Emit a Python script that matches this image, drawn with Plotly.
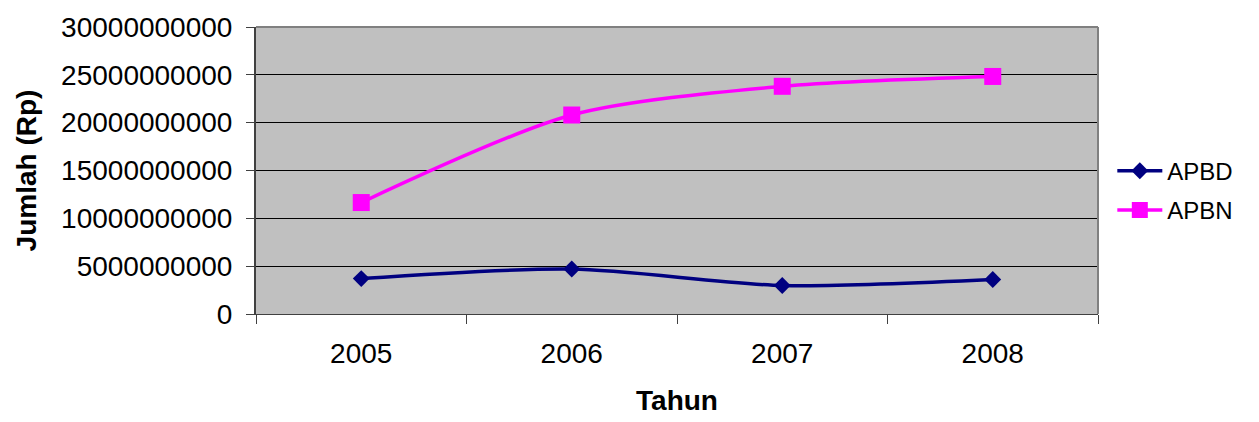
import plotly.graph_objects as go

years = ["2005", "2006", "2007", "2008"]
apbd = [3.7e9, 4.7e9, 2.98e9, 3.6e9]
apbn = [11.65e9, 20.8e9, 23.8e9, 24.83e9]
y_ticks = [0, 5e9, 10e9, 15e9, 20e9, 25e9, 30e9]
y_tick_labels = ["0", "5000000000", "10000000000", "15000000000", "20000000000", "25000000000", "30000000000"]

fig = go.Figure()
fig.add_trace(go.Scatter(
    x=years, y=apbd, name="APBD", mode="lines+markers", legendgroup="a",
    line=dict(color="#000080", width=3.5, shape="spline", smoothing=0.8),
    marker=dict(symbol="diamond", size=13, color="#000080"),
))
fig.add_trace(go.Scatter(
    x=years, y=apbn, name="APBN", mode="lines+markers", legendgroup="b",
    line=dict(color="#FF00FF", width=3.5, shape="spline", smoothing=0.8),
    marker=dict(symbol="square", size=17, color="#FF00FF"),
))

font = "Liberation Sans, Arial, sans-serif"
fig.update_layout(
    width=1259, height=422,
    margin=dict(l=256, r=161, t=25, b=105),
    paper_bgcolor="white", plot_bgcolor="#C0C0C0",
    font=dict(family=font, size=28, color="black"),
    showlegend=True,
    legend=dict(x=1.017, y=0.43, xanchor="left", yanchor="middle",
                font=dict(size=24), bgcolor="rgba(0,0,0,0)", tracegroupgap=5,
                itemwidth=45, borderwidth=0),
    xaxis=dict(
        type="category", range=[-0.5, 3.5], tickson="boundaries",
        ticks="outside", ticklen=9, tickcolor="#404040",
        showline=True, linecolor="#404040", linewidth=1,
        showgrid=False, ticklabelstandoff=14,
        tickfont=dict(size=28),
        title=dict(text="<b>Tahun</b>", font=dict(size=28), standoff=22),
    ),
    yaxis=dict(
        range=[0, 30e9], tickvals=y_ticks, ticktext=y_tick_labels,
        ticks="outside", ticklen=8, tickcolor="#404040",
        showline=True, linecolor="#404040", linewidth=2,
        showgrid=True, gridcolor="black", gridwidth=1, zeroline=False,
        ticklabelstandoff=8,
        tickfont=dict(size=28),
        title=dict(text="<b>Jumlah (Rp)</b>", font=dict(size=28), standoff=16),
    ),
)
fig.add_shape(type="line", xref="paper", yref="paper", x0=0, x1=1, y0=1, y1=1,
              line=dict(color="#808080", width=2))
fig.add_shape(type="line", xref="paper", yref="paper", x0=1, x1=1, y0=0, y1=1,
              line=dict(color="#808080", width=2))

fig.write_html("out.html", config={"displayModeBar": False},
               post_script="document.body.style.margin='0px';document.body.style.overflow='hidden';")
